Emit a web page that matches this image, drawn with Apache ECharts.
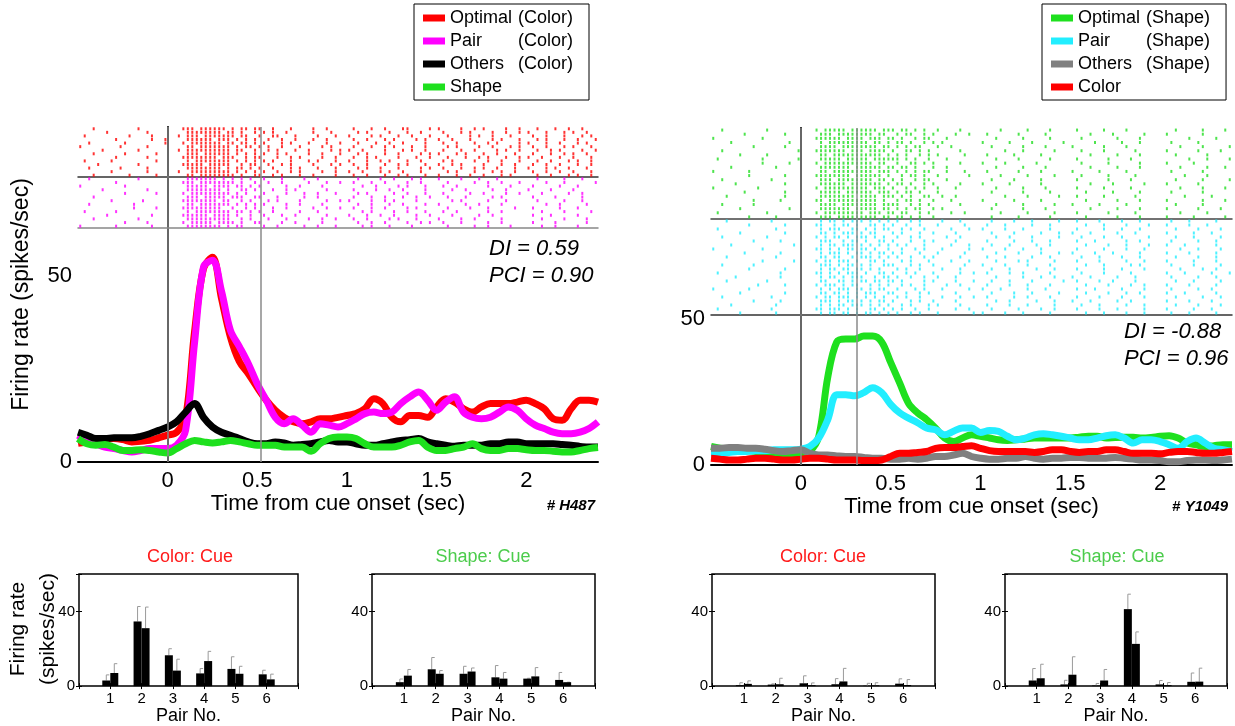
<!DOCTYPE html>
<html>
<head>
<meta charset="utf-8">
<script src="https://cdn.jsdelivr.net/npm/echarts@6/dist/echarts.min.js"></script>
<style>
  html, body { margin: 0; padding: 0; background: #fff; }
  #chart { width: 1235px; height: 726px; }
</style>
</head>
<body>
<div id="chart"></div>
<script>
const FONT = 'Liberation Sans, Arial, sans-serif';

// time base of the firing-rate curves (sec)
const times = [-0.5,-0.45,-0.4,-0.35,-0.3,-0.25,-0.2,-0.15,-0.1,-0.05,0,0.05,0.1,0.15,0.2,0.25,0.3,0.35,0.4,0.45,0.5,0.55,0.6,0.65,0.7,0.75,0.8,0.85,0.9,0.95,1,1.05,1.1,1.15,1.2,1.25,1.3,1.35,1.4,1.45,1.5,1.55,1.6,1.65,1.7,1.75,1.8,1.85,1.9,1.95,2,2.05,2.1,2.15,2.2,2.25,2.3,2.35,2.4];

// H487 (color-selective cell)
const h487Optimal = [5,5.4,5.8,6.1,6.3,6,5.4,5.6,5.8,6.5,7.2,8,12,35,52,55,44,33.6,27,23.7,20,16.6,13.9,12,10.8,10.3,10.8,11.6,11.6,12,12.5,13,14.3,17,15.7,12,10.8,12.5,12.5,12,14.8,17,16.1,14.3,13.4,14.8,15.7,15.7,15.7,16.1,16.6,15.7,14.3,11.6,11.2,14.3,16.6,16.6,16.1];
const h487Pair = [7.2,5.8,4.9,4,3.6,3.1,2.7,3.1,3.6,3.6,3.6,4.5,8.5,32,52.4,54.2,46,35.4,31,26.4,21,16.6,12,10.3,11.6,9.9,8,10.3,9.9,9.4,10.3,11.6,13,13.4,13,13.4,15.7,17.5,18.8,16.6,13.9,16.1,17.5,13.4,12,11.6,12,13.4,14.8,13.9,11.6,9.9,9,8,7.6,7.6,8,9,10.8];
const h487Others = [8,7.2,6.3,6.3,6.5,6.5,6.5,6.9,7.6,8.5,9.4,10.8,13.4,15.7,12,9.4,8,7.2,6.3,5.4,4.9,4.9,5.4,5.1,4.5,4.7,4.9,5.4,5.8,5.4,5.4,4.9,4.5,4.5,4.9,5.4,5.8,6,6.3,5.4,4.9,4.5,4.2,4.5,4.5,4.5,4.9,4.9,5.4,5.4,4.9,4.9,4.9,4.9,4.7,4.5,4.2,4,4];
const h487Shape = [6.3,4.9,4.5,4.7,4,3.1,3.1,3.3,3.1,2.7,2.4,3.6,4.9,5.8,5.4,5.1,5.4,5.8,5.4,4.9,4.5,4.5,4.5,4,4,4,2.9,4.9,6.3,6.7,6.7,6.3,4.9,4,4,4,4.5,5.4,5.8,4,3.1,3.1,3.6,4,4.9,3.6,3.1,3.1,3.6,3.6,3.3,3.1,3.1,2.9,2.7,2.7,3.1,3.6,3.9];

// Y1049 (shape-selective cell)
const y1049Optimal = [6.3,5.7,5.4,5.2,4.9,4.6,4.3,3.8,3.4,3.4,3.8,4.6,9.8,30,42,43,43,44,44,42,35,28,21,17.8,15.5,12.6,9.2,8,9.2,10.3,9.8,9.2,8.6,8.4,8.6,8.9,9.2,9.2,9.2,9.2,9.2,9.5,9.8,9.8,9.2,9.4,9.5,9.5,9.2,9.4,9.8,10,9.2,7.5,6.9,6.3,6.6,6.9,6.9];
const y1049Pair = [4,4,4.3,4.6,4.6,4.9,4.9,5.2,5.2,5.2,5.4,6.3,9.2,15.5,24,24,23.6,24.7,26.4,24.7,20.7,17.8,16,14.4,12.6,12,10.3,11.5,12.6,12.6,11.1,11.8,11.5,9.8,8.6,9.2,10.3,10.7,10.3,9.8,9.2,8.6,8.6,9.2,10,10.3,9.2,7.5,8.6,8.6,8,6.9,5.7,8,9.2,7.5,5.7,5.2,4.6];
const y1049Others = [5.7,5.7,6,6,5.7,5.7,5.4,4.9,4.6,4.9,5.2,4,3.4,3.4,3.1,2.9,2.9,2.6,2.3,2.3,2,2,2.3,2,2.3,2.9,2.9,3.4,4,2.9,2.3,2,2,2.3,2.3,2.9,2.3,2,2.3,2.3,2.6,2.6,2.3,2.3,2.3,2.6,2.3,2,1.7,1.7,1.5,1.1,1.1,1.5,1.7,1.7,1.5,1.7,2];
const y1049Color = [2.3,2,1.7,1.7,2,2.3,2.3,2,1.7,1.7,2,2.3,2.3,2,1.7,1.7,1.7,1.5,1.5,1.7,2.9,4,4,4.3,4.6,5.7,6,6,6.3,6.6,5.7,4.9,4.6,4.6,4.6,4.6,4.3,4.6,5.2,5.2,4.6,4.3,4.6,4.6,5.2,5.2,4.6,4,4,4,3.8,4.3,4.6,4.6,4.3,4,4,4.3,4.6];

// cue-period markers (sec)
const h487Markers = [0, 0.52];
const y1049Markers = [0, 0.31];

// raster rows: six segments (-0.5, 0, 0.5, 1, 1.5, 2 s), one char per 25 ms bin, '|' = spike
const segStarts = [-0.5, 0, 0.5, 1.0, 1.5, 2.0];
const binWidth = 0.025;

const rasterH487Optimal = [
  "...|.........|...... ...|||.||||||.|.||.| |..|...|....|..|... .|...|..|...||....| |....|..|.|....|..|. ..|...|..|..|...",
  "......|........|.... ....||||||||.||.|..| .|.|..|.....|...|.. ..|.|....|...|..|.. .|...|.|....|..|..| |...|...|.|..|..",
  ".|.........|....|... ..|.|||.|||||||.||.. |..||...|....|...|. |....|.|...|..|...| ..|....|.|..|...|.. .|..|...|...|.|.",
  "........|.......|..| ....||||||.|||.|.|.| ..|..|..|...|..|... .|..|...|.|....|.|. |..|...|....|.|...| ..|.|...|..|...|",
  "..|.......|........| ...|.|||||||.||.||.| .|...|.|...|...|..| ..|...|..|..|....|. .|..|...|..|.|....| |...|..|...|.|..",
  "|........|.....|.... ....||.|||||||.|.||. |.|..|...|....|.|.. .|...|..|.|...|..|. ..|.|....|..|...|.| .|..|...|.|...|.",
  ".....|.......|...... ..|.||||||||||.||..| ..|.|...|..|....|.| |..|....|...|.|..|. .|...|..|....|.|..| ..|..|.|....|..|",
  "...|......|......|.. ....|||.||||||.|.|.| .|..|.|....|..|...| ..|.|...|..|....|.| |...|.|...|..|...|. .|...|..|.|..|..",
  "........|......|.... ...||||||||.|||..|.| |...|..|.|....|..|. .|..|.|....|...|..| ..|...|..|.|...|..| |..|...|..|...|.",
  ".|.....|.........|.. ....|.||||||||.|.|.| .|.|...|...|.|...|. |...|..|.|...|..|.. .|.|....|..|..|...| ..|..|...|.|..|.",
  "....|........|...... ...|||||.|||||..|.|| ..|..|.|....|...|.| .|..|...|..|.|...|. |..|.|....|...|..|. .|..|..|...|..|.",
  "..|......|.....|.... ....||||||||.|.||.|. |..|...|.|...|...|. ..|.|..|...|....|.| .|...|..|.|..|...|. |...|.|..|...|..",
  ".......|.......|.... ..|..|||||||||.|.|.| .|..|..|.|....|..|. |..|...|.|..|...|.. ..|.|...|...|.|..|. .|..|..|..|...|",
  "...|.......|.....|.. ....||.||||||||.|..| |..|.|...|..|....|. .|..|...|..|.|...|. |...|..|..|...|.|.. ..|..|...|.|..|."
];
const rasterH487Pair = [
  "..|..........|...... ....|||||||.|.|.|.|. .|...|....|..|..... ..|....|..|...|.|.. |....|...|...|..... ..|.....|...|...",
  "........|........... ...|||.||||||||.|..| ..|..|.....|...|..| .|...|..|....|..|.. ..|.....|..|..|...| ....|...|......|.",
  "|.........|......... ....|||||.||||.||.|. |.....|..|....|... ...|..|....|.|...|. .|..|......|....|.. .|.....|...|....",
  ".....|.........|.... ....||||||||.|..||.| ...|..|.|......|.. .|....|..|..|....|. ...|..|.....|..|... |....|....|.....",
  "..........|......|.. ...|.|||||||||.|.|.. .|....|...|..|...|. ..|.|.....|..|...|. .|.....|..|....|..| ...|.....|..|....",
  "...|................ ....|||.|||||.|||..| |...|.....|..|..... .|...|..|...|..|..| ..|...|.....|.|.... .|....|.....|...",
  ".......|......|..... ...||||||||.||..|.|. ..|.|....|.....|..| |....|..|.|....|... ...|.|.....|...|.. ..|.....|...|....",
  "..|.........|....... ....||.|||||||.|.|.| .|....|..|....|.... ..|..|...|..|....|. |.....|..|....|... ....|..|.....|..",
  "............|....|.. ...|||||||||..|..|.| ...|..|.....|..|..| .|...|..|....|.|... ..|....|...|.....| .|.....|...|....",
  ".|......|........... ....|.||||||||.||.|. |..|.....|...|.... ...|.|....|..|...|. .|..|......|..|... ...|....|.....|.",
  "......|.........|... ...||||||.||||.|..|. .|...|..|......|.. |...|..|..|....|..| ...|.....|..|..... .|...|.....|....",
  "...|.........|...... ....||||||||||..|.|. ..|...|....|..|..| .|..|....|.|...|... |....|..|.....|... ...|....|....|..",
  "..........|....|.... ...|.|||||.||||.|..| |....|..|.....|... ..|..|..|....|..|.| .|...|.....|..|... .|....|......|..",
  "|.......|.......|... ....||||||||.|.||... .|..|.....|..|...| ...|.|...|....|... ..|.....|..|....|. ...|..|....|...."
];
const rasterY1049Optimal = [
  "..|.........|....... ...|.|||||.||||||.|| |.||.|.|..|....|... ....|.....|....|.... .|.....|....|....... ...|.....|....|.",
  ".......|........|... ....|||.||||||||.||. .|.||..|.|....|..|. .|......|.....|.... ....|....|......|.. .|.......|.....",
  "|..........|........ ...||||||.||||.|||.| |.|..|.||...|...... ...|.....|.....|... ..|.......|....|... ......|.....|...",
  "....|............|.. ....|.|||||||||.||.| .||.|..|.|.|....... |.....|....|......| .....|.....|...|... ..|.....|.......",
  ".........|......|... ....||||.||||||||.|| .|.|.||...|..|.... ..|......|....|.... |......|....|..... ....|....|.....|",
  "..|................| ...|||||||.|||.||||. |..||.|.|......|.. .....|...|......|.. ..|....|......|... .|......|....|..",
  "......|.....|....... ....||.|||||||||||.| .|.|..|.|.|.....|. .|.....|.....|..... ....|.....|....|.. ...|......|.....",
  ".|.........|.......| ....|||||.|||||.|||| ||.|.|..|...|..... ...|....|......|... .|......|....|..... ......|...|....|",
  "...........|.....|.. ...|.|||||||||||.||. .|..||.|.|.....|.. |....|......|..... ..|.....|......|... .|.....|.......",
  "....|.........|..... ....|||||||.||||||.| |.||.|...|..|..... ...|.....|....|.... ....|.....|....|.. ....|.....|...|.",
  "|.......|........... ....||.|||||||||.||| .|.|.|.||...|...|. .|......|....|..... |.....|.....|...... ..|......|.....",
  "........|.......|... ...||||||||.||||||.| ..|.||.|..|......| ....|.....|.....|.. ..|.....|.....|... .....|....|....",
  "..|..........|...... ....|||.||||||||.||. |.|..|.||...|..... ..|....|.....|..... .|......|....|.... ...|.....|.....|",
  ".....|..........|... ....||||||.|||||||.| .||.|..|.|.....|.. |.....|......|.... ....|....|......|. .|......|......",
  "|.........|......... ...|.||||||||||.|||. |..|.|.|..|...|... ...|.....|....|.... .|.....|.....|.... ....|....|....|.",
  ".......|........|... ....|||||.||||||.||| .|.||.|...|....... ..|......|.....|... ...|.....|.....|.. ..|......|.....",
  "...|............|... ....||||||||.||||.|| |.|.|..||..|..|... .....|....|......| .|.....|......|... .....|.....|...",
  ".........|.....|.... ...||.|||||||||||.|. .|.||.|..|...|.... |......|.....|.... ...|......|....|.. .|.......|....|",
  "..|......|.......... ....||||.||||||||.|| ||..|.|.|......|.. ...|.....|......|. |.....|.....|..... ...|.....|......",
  "......|..........|.. ....|||||||.|||||.|| .|.|.||..|.|...... ..|......|....|... ....|.....|....|.. .|......|....|..",
  ".|..........|....... ...|.|||||||||.|||.| |.||..|.|....|..|. ....|.....|.....|.. .|......|.....|... ....|.....|....",
  "........|.....|..... ....|||.|||||||||.|| .||.|.|..|........ ..|.....|......|... ...|......|....|.. .|.....|......|."
];
const rasterY1049Pair = [
  "...|.........|...... ....|.||.|.|||.|.|.| .|..|.|....|...|... ..|....|...|.....|. .|....|....|...|... ..|...|.....|...",
  "........|.......|... ...||..|.||.|..||.|. |..|..|...|.....|. .|...|.....|...|... ...|...|....|....|. .|....|...|.....",
  ".|............|..... ....|.|||..||.|.|.|| ..|.|..|.....|...|. |....|...|.....|... .|.....|...|...|.. ...|....|....|..",
  "......|.........|... ....||.|.|||.|.||... |.|...|..|....|.... ..|....|.....|...|. |...|.....|...|.... .|.....|...|....",
  "..|.........|....... ...|.|.||.|.|||.|.|. .|..|.|.....|..|... ...|..|....|.....|. ..|....|...|.....| ...|...|.....|..",
  ".........|.....|.... ....|||..|.||.|..||. |...|..|.|....|.... .|.....|...|...|... .|...|......|..|.. ..|.....|...|....",
  "....|.............|. ....|.||.|||.|.|.|.| .|.|...|.....|...|. ..|...|.....|..|... ...|....|...|....|. .|...|......|...",
  "|..........|........ ...||.|.|.||.||.|..| ..|..|.|...|.....|. |....|...|...|..... .|.....|....|...|.. ....|...|....|..",
  ".......|.......|.... ....|.|||.|.||.|.||. |.|...|...|.....|.. ...|....|....|...|. |....|...|.....|... .|....|.....|...",
  "...|..........|..... ....||.||..|.|||.|.| .|..|..|.|.....|... .|...|.....|...|... ..|...|....|...|... ...|....|...|....",
  "...........|......|. ...|.||.|||.|..||.|. ..|.|...|....|...|. ...|....|.|.....|.. .|....|.....|...|.. .|.....|....|...",
  "..|......|.......... ....|||.|.||.|.|..|| |...|.|..|......|.. |....|....|....|... ...|...|.....|.|... ..|....|.....|..",
  "........|.......|... ....|.||.||.||.|.|.. .|.|..|....|...|... ..|...|.....|...|.. .|.....|...|....|. ....|....|..|....",
  ".|.............|.... ...||.|.|.|||.|..||. |..|.|...|.....|..| .|....|..|.....|... ..|....|.....|.... .|...|.....|...|.",
  ".....|.........|.... ....|.||.|.|||..|.|| .|..|..|..|...|.... ...|.....|...|..|.. |...|.....|...|... ..|.....|...|....",
  "...|........|....... ....||..||.|.||.||.| |.|....|.|....|...| ..|...|....|......| .|....|..|....|... ...|...|.....|..",
  "..........|.....|... ...|.|||.|.||..|.|.| ..|.|..|....|..|... .|....|...|....|... ...|....|....|..|. .|....|.....|...",
  "|.......|........... ....|.|.|||.||.|.||. .|...|.|...|.....|. |...|.....|...|.... .|...|.....|....|.. ..|.....|..|....",
  "......|.........|... ....||.||.|.|.|||..| |..|..|.|.....|.... ..|....|...|.....|. ...|....|...|..|... .|...|......|...",
  "..|..........|...... ...|.||.|||.|.|.|.|. .|.|..|....|...|..| .|.....|..|....|... .|....|....|....|. ...|.....|...|...",
  ".........|.....|.... ....|||.|.||.|.|.||. |...|.|..|....|.... ...|..|.....|...|.. |...|.....|..|.... .|....|....|....",
  "....|.........|..... ....|.|.||.|||.|.|.| ..|.|...|.|....|... .|....|...|.....|.. ..|...|.....|...|. ...|....|....|...",
  ".|...........|...... ...||.|||.|.|..||.|. |.|..|..|.....|..|. ..|.....|....|..|.. .|....|...|.....|. .|.....|...|....",
  "......|.......|..... ....|.||.||.|.||.|.| .|..|.|...|.......| |....|...|.....|... ...|...|....|...|.. ..|...|.....|..."
];

// bar panels: pair numbers, two bars per pair, error-bar tops
const pairNo = [1, 2, 3, 4, 5, 6];
const h487ColorCueA = [3, 34.6, 16.5, 6.8, 9.2, 6.3];
const h487ColorCueAErr = [6, 42.6, 20, 9.4, 15.7, 8.5];
const h487ColorCueB = [7, 31, 8.3, 13.4, 6.6, 3.6];
const h487ColorCueBErr = [12, 42.3, 14.4, 18.6, 10.6, 6.4];
const h487ShapeCueA = [2.1, 9, 6.6, 4.7, 4, 3.3];
const h487ShapeCueAErr = [3.8, 15.3, 10.6, 11, 4.2, 7.3];
const h487ShapeCueB = [5.6, 6.6, 7.8, 4, 5.2, 2.1];
const h487ShapeCueBErr = [8.9, 8.3, 9.7, 7.3, 9.9, 2.1];
const y1049ColorCueA = [0.5, 0.8, 1.5, 1, 0.2, 1.3];
const y1049ColorCueAErr = [1.8, 1.2, 5.5, 4, 1.5, 3.9];
const y1049ColorCueB = [1.2, 1, 0.5, 2.5, 0.4, 0.6];
const y1049ColorCueBErr = [2.8, 4.2, 1.7, 9.5, 1.8, 3.5];
const y1049ShapeCueA = [3, 0.9, 0.3, 41.2, 0.9, 2.3];
const y1049ShapeCueAErr = [9.4, 3.1, 1.4, 49.2, 3, 7];
const y1049ShapeCueB = [4.2, 6.1, 3, 22.6, 0.5, 2.4];
const y1049ShapeCueBErr = [11.7, 15.7, 8.9, 29, 1.9, 9.6];

const chart = echarts.init(document.getElementById('chart'));

const pts = (ys) => times.map((t, i) => [t, ys[i]]);

function rasterPoints(rows) {
  const out = [];
  const n = rows.length;
  rows.forEach((row, r) => {
    row.split(' ').forEach((seg, k) => {
      for (let j = 0; j < seg.length; j++) {
        if (seg[j] === '|') out.push([segStarts[k] + (j + 0.5) * binWidth, n - r - 0.5]);
      }
    });
  });
  return out;
}

function rateLine(name, data, color, xi, extra) {
  return Object.assign({
    name, type: 'line', xAxisIndex: xi, yAxisIndex: xi,
    data: pts(data), showSymbol: false, smooth: 0.35,
    lineStyle: { color, width: 7 }, itemStyle: { color }, z: 3
  }, extra || {});
}

function rasterSeries(rows, color, idx, size) {
  return {
    type: 'scatter', xAxisIndex: idx, yAxisIndex: idx, silent: true,
    data: rasterPoints(rows), symbol: 'rect', symbolSize: size,
    itemStyle: { color }, z: 2
  };
}

function markers(values) {
  return {
    silent: true, symbol: 'none', label: { show: false },
    lineStyle: { color: '#8a8a8a', width: 1.5, type: 'solid' },
    data: values.map(v => ({ xAxis: v }))
  };
}

const timeLabel = v => (v < -0.01 || v > 2.01) ? '' : String(v);

function mainX(gridIndex) {
  return {
    gridIndex, type: 'value', min: -0.5, max: 2.4, interval: 0.5,
    axisLine: { lineStyle: { color: '#000', width: 2 } },
    axisTick: { show: false }, splitLine: { show: false },
    axisLabel: { fontSize: 22, color: '#000', margin: 8, fontFamily: FONT, formatter: timeLabel },
    name: 'Time from cue onset (sec)', nameLocation: 'middle', nameGap: 28,
    nameTextStyle: { fontSize: 22, color: '#000', fontFamily: FONT }
  };
}
function mainY(gridIndex, max, withName) {
  return {
    gridIndex, type: 'value', min: 0, max, interval: 50,
    axisLine: { show: true, lineStyle: { color: '#000', width: 2 } },
    axisTick: { show: false },
    splitLine: { show: false },
    axisLabel: { fontSize: 22, color: '#000', margin: 6, fontFamily: FONT, formatter: v => (v === 0 || v === 50) ? String(v) : '' },
    name: withName ? 'Firing rate (spikes/sec)' : '', nameLocation: 'middle', nameGap: 45,
    nameTextStyle: { fontSize: 23, color: '#000', fontFamily: FONT }
  };
}
function rasterX(gridIndex, color) {
  return {
    gridIndex, type: 'value', min: -0.5, max: 2.4,
    axisLine: { lineStyle: { color, width: 1.5 } },
    axisTick: { show: false }, axisLabel: { show: false }, splitLine: { show: false }
  };
}
function rasterY(gridIndex, n) {
  return { gridIndex, type: 'value', min: 0, max: n, show: false };
}

// bar panel helpers
function barX(gridIndex, top) {
  return {
    gridIndex, type: 'value', min: 0, max: 7, interval: 1, position: top ? 'top' : 'bottom',
    axisLine: { show: false }, splitLine: { show: false },
    axisTick: { show: true, inside: true, length: 3, lineStyle: { color: '#000' } },
    axisLabel: top ? { show: false } : { fontSize: 15, color: '#000', margin: 5, fontFamily: FONT, formatter: v => (v >= 1 && v <= 6) ? String(v) : '' },
    name: top ? '' : 'Pair No.', nameLocation: 'middle', nameGap: 17,
    nameTextStyle: { fontSize: 18, color: '#000', fontFamily: FONT }
  };
}
function barY(gridIndex, right) {
  return {
    gridIndex, type: 'value', min: 0, max: 60, interval: 40, position: right ? 'right' : 'left',
    axisLine: { show: false }, splitLine: { show: false },
    axisTick: { show: true, inside: true, length: 3, lineStyle: { color: '#000' } },
    axisLabel: right ? { show: false } : { fontSize: 15, color: '#000', margin: 4, fontFamily: FONT, formatter: v => (v === 0 || v === 40) ? String(v) : '' }
  };
}
function renderPairBars(params, api) {
  const x = api.value(0);
  const base = api.coord([x, 0]);
  const w = 8;
  const children = [];
  [[1, 2, -1], [3, 4, 1]].forEach(([vi, ei, side]) => {
    const top = api.coord([x, api.value(vi)]);
    const errTop = api.coord([x, api.value(ei)]);
    const x0 = side < 0 ? base[0] - w : base[0];
    const cx = x0 + w / 2;
    children.push({ type: 'line', shape: { x1: cx, y1: top[1], x2: cx, y2: errTop[1] }, style: { stroke: '#9a9a9a', lineWidth: 1 } });
    children.push({ type: 'line', shape: { x1: cx, y1: errTop[1], x2: cx + 3, y2: errTop[1] }, style: { stroke: '#9a9a9a', lineWidth: 1 } });
    children.push({ type: 'rect', shape: { x: x0, y: top[1], width: w, height: base[1] - top[1] }, style: { fill: '#000' } });
  });
  return { type: 'group', children };
}
function barSeries(idx, a, aErr, b, bErr) {
  return {
    type: 'custom', xAxisIndex: idx, yAxisIndex: idx, silent: true,
    renderItem: renderPairBars, encode: { x: 0, y: [1, 2, 3, 4] },
    data: pairNo.map((p, i) => [p, a[i], aErr[i], b[i], bErr[i]])
  };
}

const legendFormatter = name => {
  const m = name.match(/^(\S+) (\(.*\))$/);
  return m ? '{a|' + m[1] + '}{b|' + m[2] + '}' : '{a|' + name + '}';
};
function legendBox(left, names) {
  return {
    data: names, left, top: 4, orient: 'vertical', icon: 'rect',
    itemWidth: 22, itemHeight: 7, itemGap: 5,
    padding: [5, 16, 4, 9], borderColor: '#000', borderWidth: 1,
    selectedMode: false, formatter: legendFormatter,
    textStyle: { color: '#000', fontFamily: FONT, rich: { a: { width: 68, fontSize: 18, fontFamily: FONT }, b: { fontSize: 18, fontFamily: FONT } } }
  };
}

const barGrids = [
  { left: 79, top: 574, width: 219, height: 114 },
  { left: 372, top: 574, width: 223, height: 114 },
  { left: 712, top: 574, width: 223, height: 114 },
  { left: 1005, top: 574, width: 222, height: 114 }
].map(g => Object.assign({ show: true, borderColor: '#000', borderWidth: 1.5, backgroundColor: 'transparent' }, g));

const option = {
  animation: false,
  textStyle: { fontFamily: FONT },
  legend: [
    legendBox(414, ['Optimal (Color)', 'Pair (Color)', 'Others (Color)', 'Shape']),
    legendBox(1042, ['Optimal (Shape)', 'Pair (Shape)', 'Others (Shape)', 'Color'])
  ],
  grid: [
    { left: 78, top: 127, width: 520, height: 335 },
    { left: 78, top: 127, width: 520, height: 50 },
    { left: 78, top: 177, width: 520, height: 51 },
    { left: 711, top: 128, width: 521, height: 337 },
    { left: 711, top: 128, width: 521, height: 91 },
    { left: 711, top: 219, width: 521, height: 96 }
  ].concat(barGrids),
  xAxis: [
    mainX(0), rasterX(1, '#333'), rasterX(2, '#888'),
    mainX(3), rasterX(4, '#444'), rasterX(5, '#333'),
    barX(6), barX(7), barX(8), barX(9),
    barX(6, true), barX(7, true), barX(8, true), barX(9, true)
  ],
  yAxis: [
    mainY(0, 90, true), rasterY(1, rasterH487Optimal.length), rasterY(2, rasterH487Pair.length),
    mainY(3, 115, false), rasterY(4, rasterY1049Optimal.length), rasterY(5, rasterY1049Pair.length),
    barY(6), barY(7), barY(8), barY(9),
    barY(6, true), barY(7, true), barY(8, true), barY(9, true)
  ],
  graphic: [
    { type: 'text', x: 489, y: 249, style: { text: 'DI = 0.59', fontSize: 22, fontStyle: 'italic', fontFamily: FONT, fill: '#000', align: 'left', verticalAlign: 'middle' } },
    { type: 'text', x: 489, y: 276, style: { text: 'PCI = 0.90', fontSize: 22, fontStyle: 'italic', fontFamily: FONT, fill: '#000', align: 'left', verticalAlign: 'middle' } },
    { type: 'text', x: 1124, y: 332, style: { text: 'DI = -0.88', fontSize: 22, fontStyle: 'italic', fontFamily: FONT, fill: '#000', align: 'left', verticalAlign: 'middle' } },
    { type: 'text', x: 1124, y: 359, style: { text: 'PCI = 0.96', fontSize: 22, fontStyle: 'italic', fontFamily: FONT, fill: '#000', align: 'left', verticalAlign: 'middle' } },
    { type: 'text', x: 595, y: 506, style: { text: '# H487', fontSize: 15, fontStyle: 'italic', fontWeight: 'bold', fontFamily: FONT, fill: '#000', align: 'right', verticalAlign: 'middle' } },
    { type: 'text', x: 1228, y: 507, style: { text: '# Y1049', fontSize: 15, fontStyle: 'italic', fontWeight: 'bold', fontFamily: FONT, fill: '#000', align: 'right', verticalAlign: 'middle' } },
    { type: 'text', x: 190, y: 557, style: { text: 'Color: Cue', fontSize: 18, fontFamily: FONT, fill: '#ff1a1a', align: 'center', verticalAlign: 'middle' } },
    { type: 'text', x: 483, y: 557, style: { text: 'Shape: Cue', fontSize: 18, fontFamily: FONT, fill: '#4ccc4c', align: 'center', verticalAlign: 'middle' } },
    { type: 'text', x: 823, y: 557, style: { text: 'Color: Cue', fontSize: 18, fontFamily: FONT, fill: '#ff1a1a', align: 'center', verticalAlign: 'middle' } },
    { type: 'text', x: 1117, y: 557, style: { text: 'Shape: Cue', fontSize: 18, fontFamily: FONT, fill: '#4ccc4c', align: 'center', verticalAlign: 'middle' } },
    { type: 'text', x: 33, y: 629, rotation: Math.PI / 2, style: { text: 'Firing rate\n(spikes/sec)', fontSize: 21, lineHeight: 30, fontFamily: FONT, fill: '#000', align: 'center', verticalAlign: 'middle' } }
  ],
  series: [
    rateLine('Optimal (Color)', h487Optimal, '#ff0000', 0, { markLine: markers(h487Markers) }),
    rateLine('Pair (Color)', h487Pair, '#ff00ff', 0),
    rateLine('Others (Color)', h487Others, '#000000', 0),
    rateLine('Shape', h487Shape, '#1ee01e', 0),
    rasterSeries(rasterH487Optimal, '#ff0000', 1, [2, 3]),
    rasterSeries(rasterH487Pair, '#ff00ff', 2, [2, 3]),

    rateLine('Optimal (Shape)', y1049Optimal, '#1ee01e', 3, { markLine: markers(y1049Markers) }),
    rateLine('Pair (Shape)', y1049Pair, '#22eeff', 3),
    rateLine('Others (Shape)', y1049Others, '#808080', 3),
    rateLine('Color', y1049Color, '#ff0000', 3),
    rasterSeries(rasterY1049Optimal, '#22dd22', 4, [2, 3]),
    rasterSeries(rasterY1049Pair, '#22eeff', 5, [2, 3]),

    barSeries(6, h487ColorCueA, h487ColorCueAErr, h487ColorCueB, h487ColorCueBErr),
    barSeries(7, h487ShapeCueA, h487ShapeCueAErr, h487ShapeCueB, h487ShapeCueBErr),
    barSeries(8, y1049ColorCueA, y1049ColorCueAErr, y1049ColorCueB, y1049ColorCueBErr),
    barSeries(9, y1049ShapeCueA, y1049ShapeCueAErr, y1049ShapeCueB, y1049ShapeCueBErr)
  ]
};

chart.setOption(option);
</script>
</body>
</html>
